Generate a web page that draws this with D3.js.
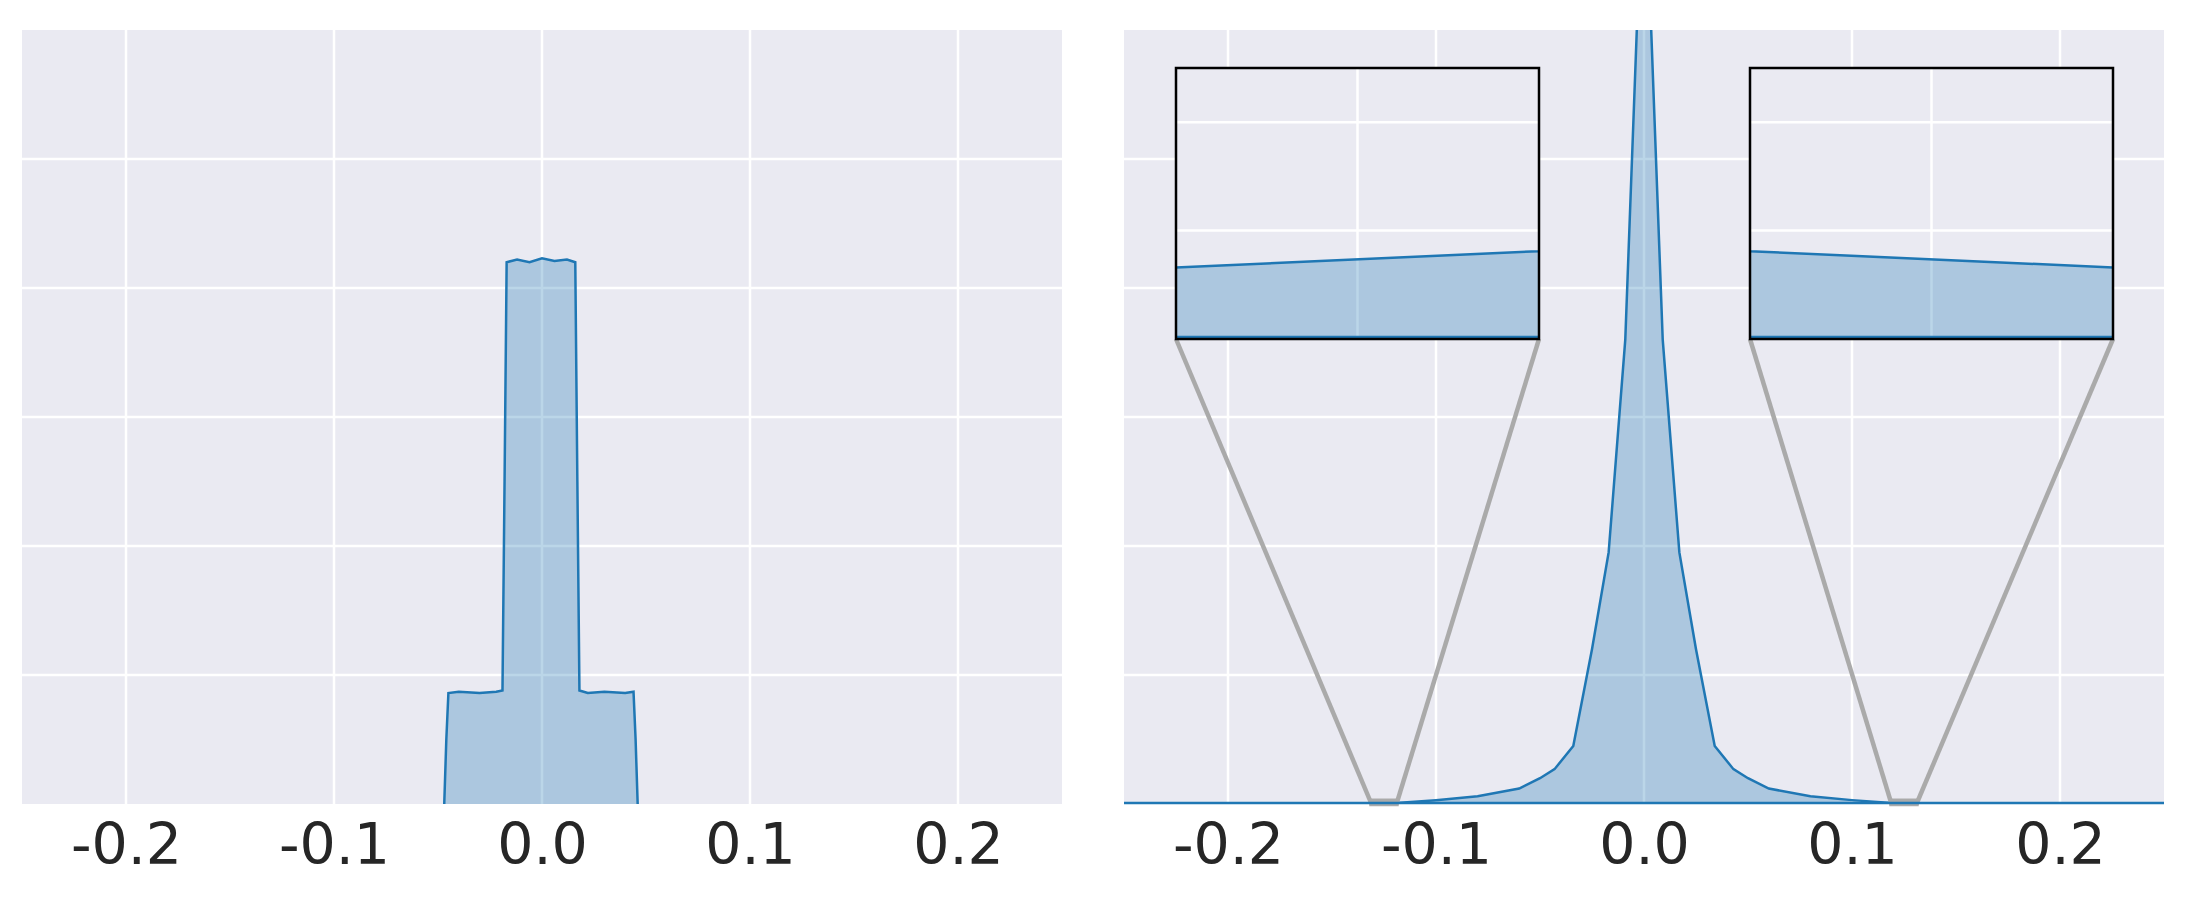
<!DOCTYPE html>
<html><head><meta charset="utf-8">
<script src="https://cdn.jsdelivr.net/npm/d3@7"></script>
<style>body{margin:0;background:#fff}svg{font-family:"DejaVu Sans",sans-serif}</style>
</head><body>
<svg width="2195" height="909"></svg>
<script>
// left panel: two-level plateau density
var leftX = [-0.047,-0.046,-0.045,-0.04,-0.03,-0.022,-0.019,-0.018,-0.017,-0.012,-0.006,0,0.006,0.012,0.016,0.017,0.018,0.022,0.03,0.04,0.044,0.045,0.046];
var leftY = [0,0.5,0.86,0.87,0.86,0.87,0.88,2.5,4.2,4.22,4.2,4.23,4.21,4.22,4.2,2.5,0.88,0.86,0.87,0.86,0.87,0.5,0];
// right panel: sharp peak
var rightX = [-0.25,-0.2,-0.15,-0.131,-0.119,-0.1,-0.08,-0.06,-0.05,-0.043,-0.034,-0.025,-0.017,-0.009,0,0.009,0.017,0.025,0.034,0.043,0.05,0.06,0.08,0.1,0.119,0.131,0.15,0.2,0.25];
var rightY = [0.001,0.002,0.005,0.0066,0.0081,0.03,0.06,0.12,0.2,0.27,0.45,1.2,1.95,3.6,7.5,3.6,1.95,1.2,0.45,0.27,0.2,0.12,0.06,0.03,0.0081,0.0066,0.005,0.002,0.001];
var xTicks = [-0.2,-0.1,0.0,0.1,0.2];
var yTicks = [1,2,3,4,5];
var insets = [{dom:[-0.131,-0.119], x0:1176, x1:1539}, {dom:[0.119,0.131], x0:1750, x1:2113}];

var svg = d3.select("svg");
var lineCol = "#1f77b4", fillCol = "rgba(31,119,180,0.3)";

function panel(x0, x1, xs, ys, clipId) {
  var y0 = 30, y1 = 804;
  var x = d3.scaleLinear().domain([-0.25,0.25]).range([x0,x1]);
  var y = d3.scaleLinear().domain([0,6]).range([y1,y0]);
  var g = svg.append("g");
  g.append("clipPath").attr("id", clipId).append("rect").attr("x",x0).attr("y",y0).attr("width",x1-x0).attr("height",y1-y0);
  g.append("rect").attr("x",x0).attr("y",y0).attr("width",x1-x0).attr("height",y1-y0).attr("fill","#eaeaf2");
  g.selectAll(".vg").data(xTicks).enter().append("line").attr("x1",x).attr("x2",x).attr("y1",y0).attr("y2",y1).attr("stroke","#fff").attr("stroke-width",2.5);
  g.selectAll(".hg").data(yTicks).enter().append("line").attr("y1",y).attr("y2",y).attr("x1",x0).attr("x2",x1).attr("stroke","#fff").attr("stroke-width",2.5);
  var pts = xs.map(function(d,i){return [d, ys[i]];});
  var cg = g.append("g").attr("clip-path","url(#"+clipId+")");
  cg.append("path").datum(pts).attr("d", d3.area().x(function(d){return x(d[0]);}).y0(y(0)).y1(function(d){return y(d[1]);})).attr("fill",fillCol);
  cg.append("path").datum(pts).attr("d", d3.line().x(function(d){return x(d[0]);}).y(function(d){return y(d[1]);})).attr("fill","none").attr("stroke",lineCol).attr("stroke-width",2.5);
  var ax = g.append("g").attr("transform","translate(0,"+(y1+6)+")").call(d3.axisBottom(x).tickValues(xTicks).tickFormat(d3.format(".1f")).tickSize(0));
  ax.select(".domain").remove();
  ax.selectAll("text").attr("font-size",57).attr("fill","#262626").attr("font-family","DejaVu Sans").attr("dy","0.9em").text(function(d){return d3.format(".1f")(d).replace("−","-");});
  return {x:x, y:y, pts:pts};
}

panel(22, 1062, leftX, leftY, "c1");
var r = panel(1124, 2164, rightX, rightY, "c2");

insets.forEach(function(ins, k) {
  var iy0 = 68, iy1 = 339;
  var ix = d3.scaleLinear().domain(ins.dom).range([ins.x0, ins.x1]);
  var iy = d3.scaleLinear().domain([0,0.025]).range([iy1, iy0]);
  // connector lines and source rect
  var sx0 = r.x(ins.dom[0]), sx1 = r.x(ins.dom[1]), sy = r.y(0.025);
  svg.append("rect").attr("x",sx0).attr("y",sy).attr("width",sx1-sx0).attr("height",r.y(0)-sy).attr("fill","none").attr("stroke","#aaa").attr("stroke-width",4.5);
  svg.append("line").attr("x1",ins.x0).attr("y1",iy1).attr("x2",sx0).attr("y2",r.y(0)).attr("stroke","#aaa").attr("stroke-width",4.5);
  svg.append("line").attr("x1",ins.x1).attr("y1",iy1).attr("x2",sx1).attr("y2",r.y(0)).attr("stroke","#aaa").attr("stroke-width",4.5);
  var g = svg.append("g");
  g.append("clipPath").attr("id","ic"+k).append("rect").attr("x",ins.x0).attr("y",iy0).attr("width",ins.x1-ins.x0).attr("height",iy1-iy0);
  g.append("rect").attr("x",ins.x0).attr("y",iy0).attr("width",ins.x1-ins.x0).attr("height",iy1-iy0).attr("fill","#eaeaf2");
  var gx = [(ins.dom[0]+ins.dom[1])/2];
  g.selectAll(".ivg").data(gx).enter().append("line").attr("x1",ix).attr("x2",ix).attr("y1",iy0).attr("y2",iy1).attr("stroke","#fff").attr("stroke-width",2.5);
  g.selectAll(".ihg").data([0.01,0.02]).enter().append("line").attr("y1",iy).attr("y2",iy).attr("x1",ins.x0).attr("x2",ins.x1).attr("stroke","#fff").attr("stroke-width",2.5);
  var cg = g.append("g").attr("clip-path","url(#ic"+k+")");
  cg.append("path").datum(r.pts).attr("d", d3.area().x(function(d){return ix(d[0]);}).y0(iy(0)).y1(function(d){return iy(d[1]);})).attr("fill",fillCol);
  cg.append("path").datum(r.pts).attr("d", d3.line().x(function(d){return ix(d[0]);}).y(function(d){return iy(d[1]);})).attr("fill","none").attr("stroke",lineCol).attr("stroke-width",2.5);
  g.append("line").attr("x1",ins.x0).attr("x2",ins.x1).attr("y1",iy1-2).attr("y2",iy1-2).attr("stroke",lineCol).attr("stroke-width",2.5);
  g.append("rect").attr("x",ins.x0).attr("y",iy0).attr("width",ins.x1-ins.x0).attr("height",iy1-iy0).attr("fill","none").attr("stroke","#000").attr("stroke-width",2.5);
});
// baseline in right panel
svg.append("line").attr("x1",1124).attr("x2",2164).attr("y1",803).attr("y2",803).attr("stroke",lineCol).attr("stroke-width",2.5);
</script>
</body></html>
